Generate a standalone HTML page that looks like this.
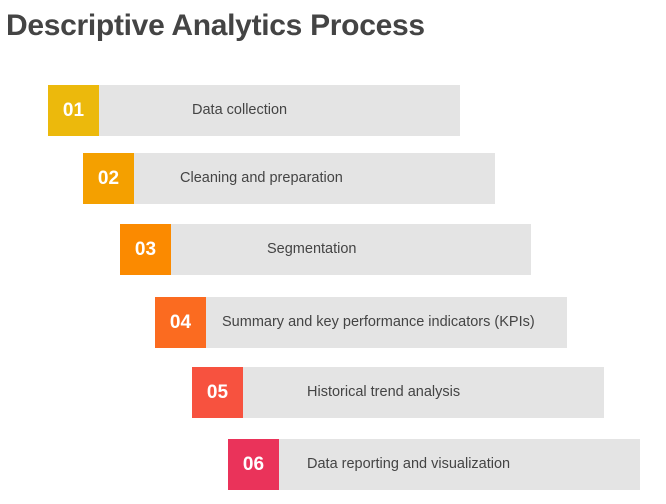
<!DOCTYPE html>
<html><head><meta charset="utf-8"><style>
body{margin:0;width:666px;height:504px;background:#fff;position:relative;font-family:"Liberation Sans",sans-serif;overflow:hidden}
h1{position:absolute;left:6px;top:9px;margin:0;font-size:30px;font-weight:bold;color:#444;letter-spacing:-0.3px}
.bar{position:absolute;height:51px;background:#e4e4e4}
.num{position:absolute;top:0;left:0;width:51px;height:51px;color:#fff;font-weight:bold;font-size:19px;line-height:51px;text-align:center}
.lbl{position:absolute;top:0;line-height:51px;font-size:14.5px;color:#444;white-space:nowrap}
</style></head><body>
<h1>Descriptive Analytics Process</h1>
<div class="bar" style="left:48px;top:85px;width:412px"><div class="num" style="background:#ecb90c">01</div><div class="lbl" style="left:144px">Data collection</div></div>
<div class="bar" style="left:83px;top:153px;width:412px"><div class="num" style="background:#f4a000">02</div><div class="lbl" style="left:97px">Cleaning and preparation</div></div>
<div class="bar" style="left:120px;top:224px;width:411px"><div class="num" style="background:#fb8a00">03</div><div class="lbl" style="left:147px">Segmentation</div></div>
<div class="bar" style="left:155px;top:297px;width:412px"><div class="num" style="background:#fb6b20">04</div><div class="lbl" style="left:67px">Summary and key performance indicators (KPIs)</div></div>
<div class="bar" style="left:192px;top:367px;width:412px"><div class="num" style="background:#f7523f">05</div><div class="lbl" style="left:115px">Historical trend analysis</div></div>
<div class="bar" style="left:228px;top:439px;width:412px"><div class="num" style="background:#ea335a">06</div><div class="lbl" style="left:79px">Data reporting and visualization</div></div>
</body></html>
